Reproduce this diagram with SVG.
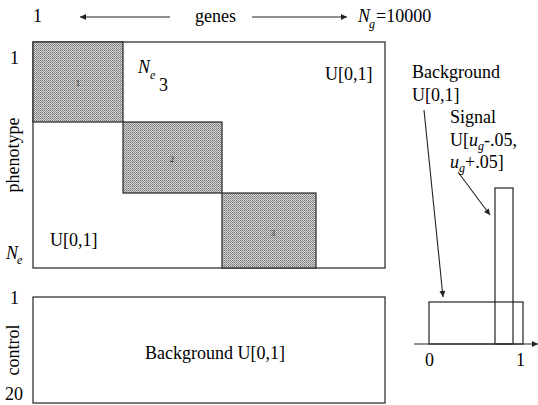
<svg xmlns="http://www.w3.org/2000/svg" width="538" height="405" viewBox="0 0 538 405">
<defs>
<pattern id="dots" width="4" height="4" patternUnits="userSpaceOnUse">
<rect width="4" height="4" fill="#d4d4d4"/>
<rect x="0" y="0" width="1" height="1" fill="#777"/>
<rect x="2" y="0" width="1" height="1" fill="#777"/>
<rect x="1" y="1" width="1" height="1" fill="#888"/>
<rect x="3" y="1" width="1" height="1" fill="#888"/>
<rect x="0" y="2" width="1" height="1" fill="#777"/>
<rect x="2" y="2" width="1" height="1" fill="#777"/>
<rect x="1" y="3" width="1" height="1" fill="#999"/>
<rect x="3" y="3" width="1" height="1" fill="#999"/>
</pattern>
<marker id="ah" viewBox="0 0 10 10" refX="10" refY="5" markerWidth="8" markerHeight="6" orient="auto" markerUnits="userSpaceOnUse">
<path d="M0,0 L10,5 L0,10 z" fill="#222"/>
</marker>
</defs>

<g id="header">
<text font-family="Liberation Serif" font-size="18" x="33" y="22">1</text>
<text font-family="Liberation Serif" font-size="18" x="195" y="22">genes</text>
<text font-family="Liberation Serif" font-size="18" font-style="italic" x="358" y="22">N</text><text font-family="Liberation Serif" font-style="italic" font-size="12" x="369" y="28">g</text><text font-family="Liberation Serif" font-size="18" x="376" y="22">=10000</text>
</g>

<g id="connectors" stroke="#222" stroke-width="1.1" fill="none">
<line x1="170" y1="17" x2="80" y2="17" marker-end="url(#ah)"/>
<line x1="252" y1="17" x2="347" y2="17" marker-end="url(#ah)"/>
<line x1="424" y1="110" x2="443" y2="297" marker-end="url(#ah)"/>
<line x1="458" y1="172" x2="490" y2="215" marker-end="url(#ah)"/>
<line x1="414" y1="344" x2="538" y2="344" marker-end="url(#ah)"/>
</g>

<g id="phenotype-matrix">
<rect x="33" y="42" width="352" height="226" fill="none" stroke="#333" stroke-width="1.3"/>
<text font-family="Liberation Serif" font-size="18" x="10" y="64">1</text>
<text font-family="Liberation Serif" font-size="18" transform="translate(19,155) rotate(-90)" text-anchor="middle">phenotype</text>
<text font-family="Liberation Serif" font-size="18" font-style="italic" x="6" y="259">N</text><text font-family="Liberation Serif" font-style="italic" font-size="12" x="17" y="264">e</text>
<text font-family="Liberation Serif" font-size="18" font-style="italic" x="138" y="73">N</text><text font-family="Liberation Serif" font-style="italic" font-size="12" x="150" y="79">e</text><text font-family="Liberation Serif" font-size="18" x="159" y="91">3</text>
<text font-family="Liberation Serif" font-size="18" x="325" y="80">U[0,1]</text>
<text font-family="Liberation Serif" font-size="18" x="50" y="246">U[0,1]</text>
</g>

<g id="block1">
<rect x="33" y="42" width="90" height="80" fill="url(#dots)" stroke="#333" stroke-width="1.3"/>
<text font-family="Liberation Serif" font-size="9" fill="#333" x="78" y="86" text-anchor="middle">1</text>
</g>
<g id="block2">
<rect x="123" y="122" width="99" height="71" fill="url(#dots)" stroke="#333" stroke-width="1.3"/>
<text font-family="Liberation Serif" font-size="9" fill="#333" x="172" y="162" text-anchor="middle">2</text>
</g>
<g id="block3">
<rect x="222" y="193" width="94" height="75" fill="url(#dots)" stroke="#333" stroke-width="1.3"/>
<text font-family="Liberation Serif" font-size="9" fill="#333" x="273" y="236" text-anchor="middle">3</text>
</g>

<g id="control">
<rect x="33" y="297" width="352" height="106" fill="none" stroke="#333" stroke-width="1.3"/>
<text font-family="Liberation Serif" font-size="18" x="10" y="304">1</text>
<text font-family="Liberation Serif" font-size="18" transform="translate(19,350) rotate(-90)" text-anchor="middle">control</text>
<text font-family="Liberation Serif" font-size="18" x="5" y="400">20</text>
<text font-family="Liberation Serif" font-size="18" x="215" y="359" text-anchor="middle">Background U[0,1]</text>
</g>

<g id="histogram">
<rect x="429" y="302" width="94" height="42" fill="none" stroke="#333" stroke-width="1.3"/>
<rect x="495" y="188" width="18" height="156" fill="none" stroke="#333" stroke-width="1.3"/>
<text font-family="Liberation Serif" font-size="18" x="425" y="366">0</text>
<text font-family="Liberation Serif" font-size="18" x="516" y="366">1</text>
<text font-family="Liberation Serif" font-size="18" x="412" y="78">Background</text>
<text font-family="Liberation Serif" font-size="18" x="412" y="101">U[0,1]</text>
<text font-family="Liberation Serif" font-size="18" x="450" y="123">Signal</text>
<text font-family="Liberation Serif" font-size="18" x="450" y="146">U[<tspan font-style="italic">u</tspan><tspan font-style="italic" font-size="12" dy="4">g</tspan><tspan dy="-4">-.05,</tspan></text>
<text font-family="Liberation Serif" font-size="18" x="450" y="168"><tspan font-style="italic">u</tspan><tspan font-style="italic" font-size="12" dy="4">g</tspan><tspan dy="-4">+.05]</tspan></text>
</g>
</svg>
